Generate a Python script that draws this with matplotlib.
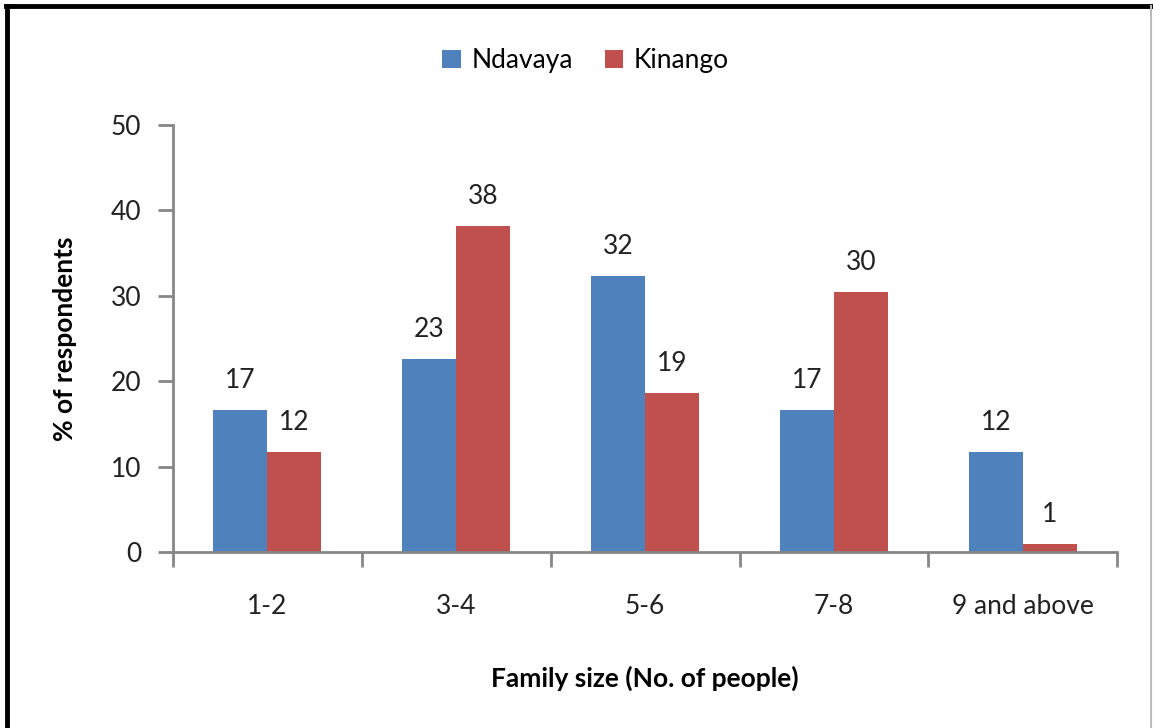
import numpy as np
import matplotlib.pyplot as plt
from matplotlib.lines import Line2D

plt.rcParams['font.family'] = ['Lato', 'DejaVu Sans']

# data
categories = ['1-2', '3-4', '5-6', '7-8', '9 and above']
ndavaya = [16.6, 22.6, 32.3, 16.6, 11.7]
kinango = [11.7, 38.2, 18.6, 30.4, 0.9]

blue = '#4F81BD'
red = '#C0504D'
grey = '#868686'
fs = 19

fig = plt.figure(figsize=(11.53, 7.28), dpi=100)
ax = fig.add_axes([0.150, 0.2418, 0.819, 0.5864])

x = np.arange(len(categories))
w = 0.2857
b1 = ax.bar(x - w/2, ndavaya, w, color=blue, label='Ndavaya')
b2 = ax.bar(x + w/2, kinango, w, color=red, label='Kinango')

for bars, vals in [(b1, ndavaya), (b2, kinango)]:
    for r, v in zip(bars, vals):
        ax.text(r.get_x() + r.get_width()/2, v + 2.0, f'{v:.0f}',
                ha='center', va='bottom', fontsize=fs, color='#222222')

ax.set_xlim(-0.5, len(categories) - 0.5)
ax.set_ylim(0, 50)
ax.set_yticks(np.arange(0, 51, 10))

# categories labels in the middle, ticks between groups
ax.set_xticks(np.arange(-0.5, len(categories), 1))
ax.set_xticklabels([])
ax.set_xticks(x, minor=True)
ax.set_xticklabels(categories, minor=True)
ax.tick_params(axis='x', which='minor', length=0, pad=30, labelsize=fs, labelcolor='#222222')
ax.tick_params(axis='x', which='major', length=11, width=2, color=grey, direction='out')
ax.tick_params(axis='y', length=11, width=2, color=grey, direction='out', pad=12,
               labelsize=fs, labelcolor='#222222')

for s in ['top', 'right']:
    ax.spines[s].set_visible(False)
for s in ['left', 'bottom']:
    ax.spines[s].set_color(grey)
    ax.spines[s].set_linewidth(2)

ax.set_ylabel('% of respondents', fontsize=fs, fontweight='bold', labelpad=24)
ax.set_xlabel('Family size (No. of people)', fontsize=fs, fontweight='bold', labelpad=34)

ax.legend(loc='upper center', bbox_to_anchor=(0.437, 1.235), ncol=2, frameon=False,
          fontsize=fs, handlelength=0.7, handleheight=0.7, handletextpad=0.4,
          columnspacing=1.2)

# outer frame
fig.add_artist(Line2D([0.0055, 0.9985], [0.9915, 0.9915], color='black', lw=3.5))
fig.add_artist(Line2D([0.0065, 0.0065], [0.0, 0.9915], color='black', lw=3.5))
fig.add_artist(Line2D([0.9985, 0.9985], [0.0, 0.9915], color='#bbbbbb', lw=1.5))

fig.savefig('out.png', dpi=100)
